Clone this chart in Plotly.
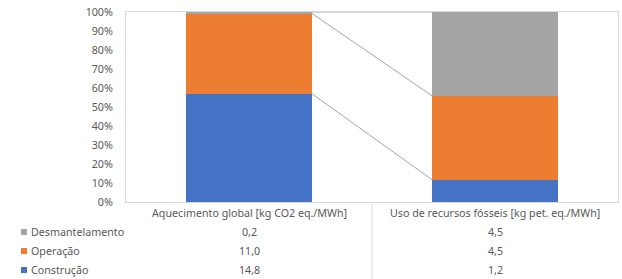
import plotly.graph_objects as go

categories = ["Aquecimento global [kg CO2 eq./MWh]", "Uso de recursos fósseis [kg pet. eq./MWh]"]
series_names = ["Construção", "Operação", "Desmantelamento"]
construcao = [14.8, 1.2]
operacao = [11.0, 4.5]
desmantelamento = [0.2, 4.5]
y_ticks = [0, 10, 20, 30, 40, 50, 60, 70, 80, 90, 100]

series_values = [construcao, operacao, desmantelamento]
colors = ["#4472C4", "#ED7D31", "#A5A5A5"]

W, H = 622, 279
ML, MR, MT, MB = 126, 4, 12, 77
plot_h = H - MT - MB
FONT = "Noto Sans"
FS = 10.7
TXT = "#595959"
BW = 0.512

def py(pix):
    return (H - MB - pix) / plot_h

def pxx(pix):
    return (pix - ML) / (W - ML - MR)

xs = list(range(len(categories)))
fig = go.Figure()
for name, vals, col in zip(series_names, series_values, colors):
    fig.add_trace(go.Bar(x=xs, y=vals, name=name, marker=dict(color=col, line=dict(width=0)),
                         width=BW, showlegend=False))

# series connector lines (percent tops)
totals = [sum(v[i] for v in series_values) for i in xs]
cum = [0.0] * len(xs)
for vals in series_values:
    cum = [cum[i] + vals[i] for i in xs]
    pct = [100 * cum[i] / totals[i] for i in xs]
    fig.add_trace(go.Scatter(x=[xs[0] + BW / 2, xs[1] - BW / 2], y=[pct[0], pct[1]], mode="lines",
                             line=dict(color="#A6A6A6", width=1), showlegend=False, hoverinfo="skip"))

annotations = []
row_pix = [232, 251, 270]
for i, cat in enumerate(categories):
    annotations.append(dict(x=xs[i], y=py(213), xref="x", yref="paper", text=cat, showarrow=False,
                            font=dict(family=FONT, size=FS, color=TXT), xanchor="center", yanchor="middle"))
shapes = []
for r, (name, vals, col) in enumerate(zip(series_names[::-1], series_values[::-1], colors[::-1])):
    ypix = row_pix[r]
    annotations.append(dict(x=pxx(29), y=py(ypix), xref="paper", yref="paper", text=name, showarrow=False,
                            font=dict(family=FONT, size=FS, color=TXT), xanchor="left", yanchor="middle"))
    shapes.append(dict(type="rect", xref="paper", yref="paper", x0=pxx(21), x1=pxx(27),
                       y0=py(ypix + 3), y1=py(ypix - 3), fillcolor=col, line=dict(width=0)))
    for i in xs:
        annotations.append(dict(x=xs[i], y=py(ypix), xref="x", yref="paper",
                                text=f"{vals[i]:.1f}".replace(".", ","), showarrow=False,
                                font=dict(family=FONT, size=FS, color=TXT), xanchor="center", yanchor="middle"))

shapes.append(dict(type="line", xref="x", yref="paper", x0=0.5, x1=0.5, y0=0, y1=py(279),
                   line=dict(color="#D9D9D9", width=1)))

fig.update_layout(
    width=W, height=H, margin=dict(l=ML, r=MR, t=MT, b=MB),
    barmode="stack", barnorm="percent", bargap=0,
    plot_bgcolor="white", paper_bgcolor="white",
    font=dict(family=FONT, size=FS, color=TXT),
    annotations=annotations, shapes=shapes,
    xaxis=dict(range=[-0.5, 1.5], showticklabels=False, showgrid=False, zeroline=False,
               showline=True, mirror=True, linecolor="#D9D9D9", linewidth=1, fixedrange=True),
    yaxis=dict(range=[0, 100], tickvals=y_ticks, ticktext=[f"{t}%" for t in y_ticks],
               showgrid=False, zeroline=False, showline=True, mirror=True, linecolor="#D9D9D9",
               linewidth=1, ticklabelstandoff=10, tickfont=dict(family=FONT, size=FS, color=TXT)),
)

fig.write_html("out.html", config={"displayModeBar": False},
               post_script="document.body.style.margin='0px';document.body.style.overflow='hidden';")
